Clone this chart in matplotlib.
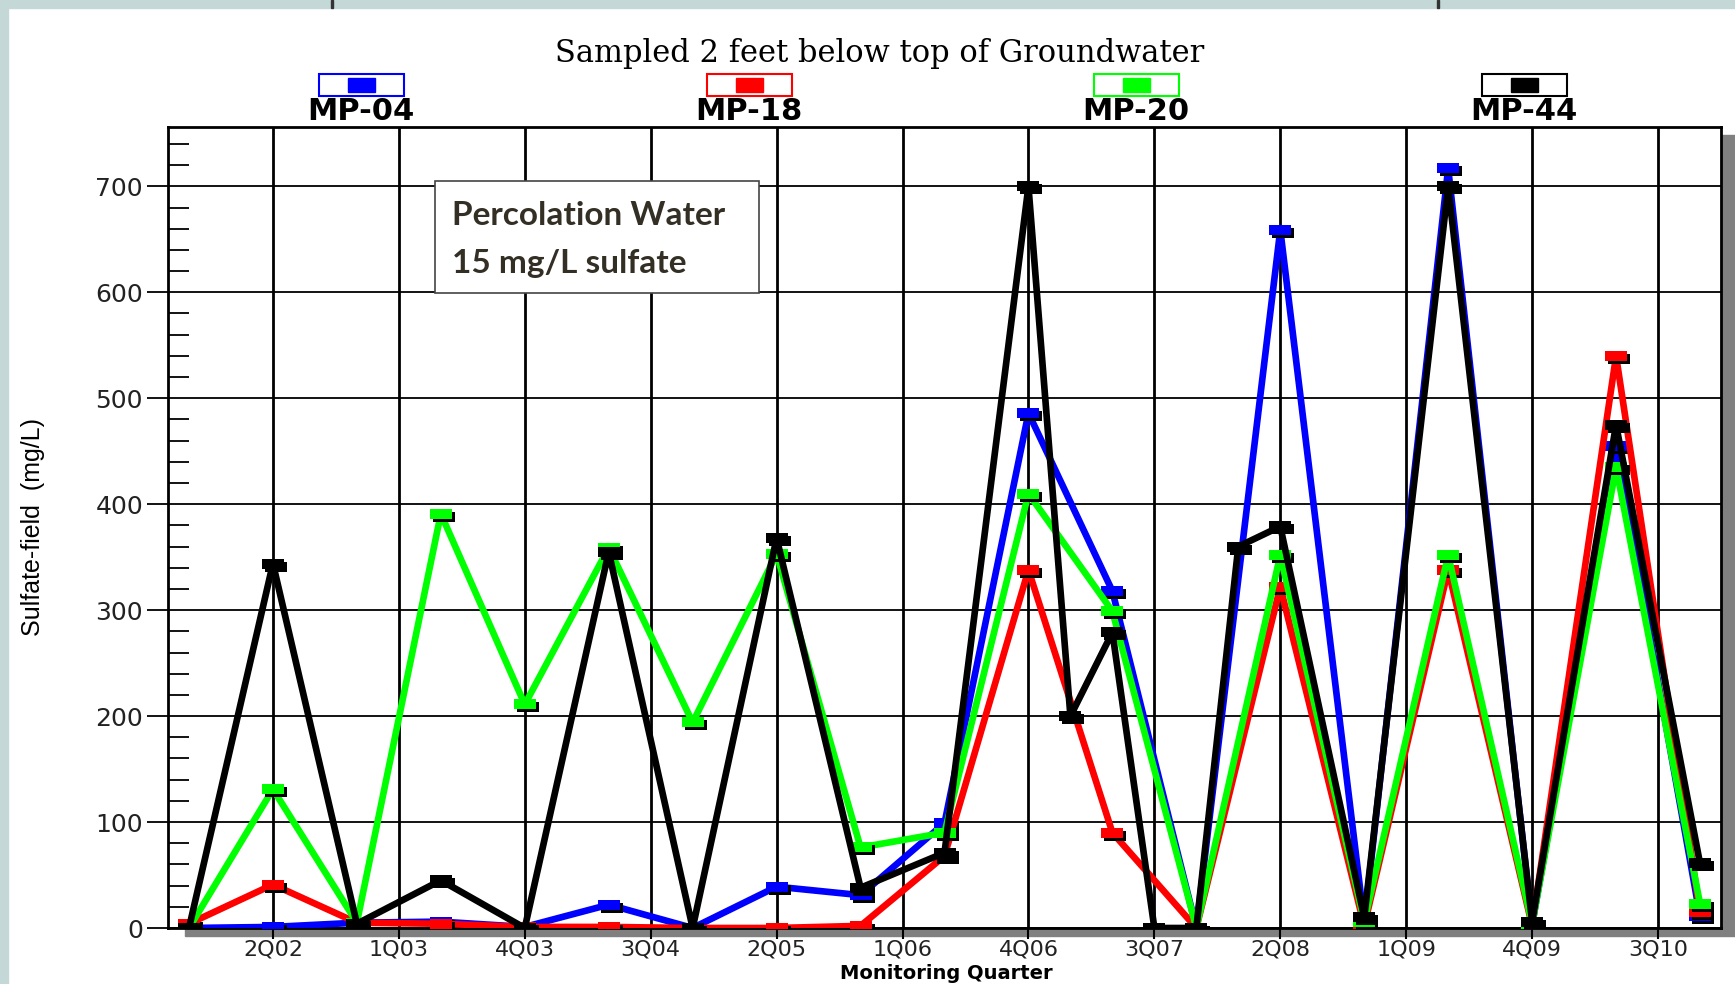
import numpy as np
import matplotlib.pyplot as plt
import matplotlib.transforms as mtransforms
from matplotlib import font_manager
from matplotlib.patches import Rectangle
from matplotlib.ticker import MultipleLocator

# sampling quarters
dates = ['4Q01', '2Q02', '4Q02', '2Q03', '4Q03', '2Q04', '4Q04', '2Q05', '4Q05', '2Q06',
         '4Q06', '2Q07', '4Q07', '2Q08', '4Q08', '2Q09', '4Q09', '2Q10', '4Q10']
dates_mp44 = ['4Q01', '2Q02', '4Q02', '2Q03', '4Q03', '2Q04', '4Q04', '2Q05', '4Q05', '2Q06',
              '4Q06', '1Q07', '2Q07', '3Q07', '4Q07', '1Q08', '2Q08', '4Q08', '2Q09', '4Q09',
              '2Q10', '4Q10']

mp04 = [0, 1, 5, 6, 1, 22, 0, 39, 31, 99, 486, 318, 0, 659, 5, 717, 3, 455, 11]
mp18 = [4, 41, 5, 4, 1, 1, 0, 0, 2, 68, 338, 90, 0, 322, 2, 338, 2, 540, 15]
mp20 = [0, 131, 5, 391, 211, 359, 194, 353, 76, 90, 410, 299, 0, 352, 6, 352, 4, 435, 23]
mp44 = [0, 344, 4, 45, 0, 355, 0, 368, 38, 71, 700, 200, 279, 0, 0, 360, 379, 10, 700, 6,
        475, 61]

tick_labels = ['2Q02', '1Q03', '4Q03', '3Q04', '2Q05', '1Q06', '4Q06', '3Q07', '2Q08',
               '1Q09', '4Q09', '3Q10']
names = ['MP-04', 'MP-18', 'MP-20', 'MP-44']
colors = ['#0000ff', '#ff0000', '#00ff00', '#000000']


def q_pos(lbl):
    # quarter index, 4Q01 = 0
    return (int(lbl[2:]) - 1) * 4 + int(lbl[0]) - 4


# narrow font for the y label if there is one
try:
    font_manager.findfont('Liberation Sans Narrow', fallback_to_default=False)
    ylab_font, ylab_size = 'Liberation Sans Narrow', 21
except ValueError:
    ylab_font, ylab_size = 'Liberation Sans', 18

W, H = 1735, 984
fig = plt.figure(figsize=(W / 100, H / 100), dpi=100)

# slide background bits and the drop shadow of the plot area
fig.patches.append(Rectangle((0, 1 - 8 / H), 1, 8 / H, transform=fig.transFigure,
                             color='#c5d8d8', zorder=-2))
fig.patches.append(Rectangle((0, 0), 8 / W, 1, transform=fig.transFigure,
                             color='#c5d8d8', zorder=-2))
for mx in [331, 1437]:
    fig.patches.append(Rectangle((mx / W, 1 - 8 / H), 2 / W, 8 / H, transform=fig.transFigure,
                                 color='#333333', zorder=-1))
fig.patches.append(Rectangle((185 / W, (H - 936) / H), 1, (936 - 135) / H,
                             transform=fig.transFigure, color='#808080', zorder=-1))

ax = fig.add_axes([168 / W, (H - 928) / H, (1721 - 168) / W, (928 - 127) / H])
ax.set_facecolor('white')
ax.set_xlim(-0.5, 36.5)
ax.set_ylim(0, 756)

ax.set_xticks([q_pos(t) for t in tick_labels])
ax.set_xticklabels(tick_labels)
ax.set_yticks(range(0, 701, 100))
ax.yaxis.set_minor_locator(MultipleLocator(20))
ax.tick_params(axis='x', direction='out', length=8, width=1.5, labelsize=16, pad=0,
               labelcolor='#222222')
ax.tick_params(axis='y', which='major', direction='out', length=15, width=1.3,
               labelsize=18, pad=3, labelcolor='#222222')
ax.tick_params(axis='y', which='minor', direction='in', length=15, width=1.3)
ax.set_axisbelow(True)
ax.xaxis.grid(True, color='black', lw=2.0)
ax.yaxis.grid(True, color='black', lw=1.3)
for s in ax.spines.values():
    s.set_linewidth(2)

rect = [(-1.2, -0.5), (1.2, -0.5), (1.2, 0.5), (-1.2, 0.5), (-1.2, -0.5)]
shadow = mtransforms.offset_copy(ax.transData, fig=fig, x=3, y=-3, units='dots')

series = [(dates, mp04), (dates, mp18), (dates, mp20), (dates_mp44, mp44)]
for i, (d, v) in enumerate(series):
    x = [q_pos(q) for q in d]
    ax.plot(x, v, color=colors[i], lw=4.8, zorder=3 + i)
    ax.plot(x, v, ls='none', marker=rect, ms=16, mew=0, color='black',
            transform=shadow, zorder=3 + i)
    ax.plot(x, v, ls='none', marker=rect, ms=16, mew=0, color=colors[i], zorder=3 + i)

# header: title and hand-made legend
fig.text(880 / W, 1 - 62 / H, 'Sampled 2 feet below top of Groundwater', ha='center',
         va='baseline', family='DejaVu Serif', fontsize=22)
for cx, name, c in zip([361, 749, 1136, 1524], names, colors):
    fig.patches.append(Rectangle(((cx - 42) / W, 1 - 96 / H), 85 / W, 22 / H,
                                 transform=fig.transFigure, fill=False, edgecolor=c,
                                 lw=1.5))
    fig.patches.append(Rectangle(((cx - 13) / W, 1 - 92 / H), 27 / W, 14 / H,
                                 transform=fig.transFigure, color=c))
    fig.text(cx / W, 1 - 120 / H, name, ha='center', va='baseline', fontsize=22,
             weight='bold')

# note box
fig.patches.append(Rectangle((435 / W, 1 - 293 / H), 324 / W, 112 / H,
                             transform=fig.transFigure, facecolor='white',
                             edgecolor='#444444', lw=1.2, zorder=2))
fig.text(452 / W, 1 - 225 / H, 'Percolation Water', family=['Lato', 'DejaVu Sans'],
         weight='bold', fontsize=24, color='#332f25', va='baseline', zorder=3)
fig.text(452 / W, 1 - 273 / H, '15 mg/L sulfate', family=['Lato', 'DejaVu Sans'],
         weight='bold', fontsize=24, color='#332f25', va='baseline', zorder=3)

fig.text(33 / W, 1 - 527 / H, 'Sulfate-field  (mg/L)', rotation=90, ha='center',
         va='center', family=[ylab_font, 'DejaVu Sans'], fontsize=ylab_size)
fig.text(946 / W, 1 - 979 / H, 'Monitoring Quarter', ha='center', va='baseline',
         fontsize=14, weight='bold')

fig.savefig('out.png', dpi=100)
